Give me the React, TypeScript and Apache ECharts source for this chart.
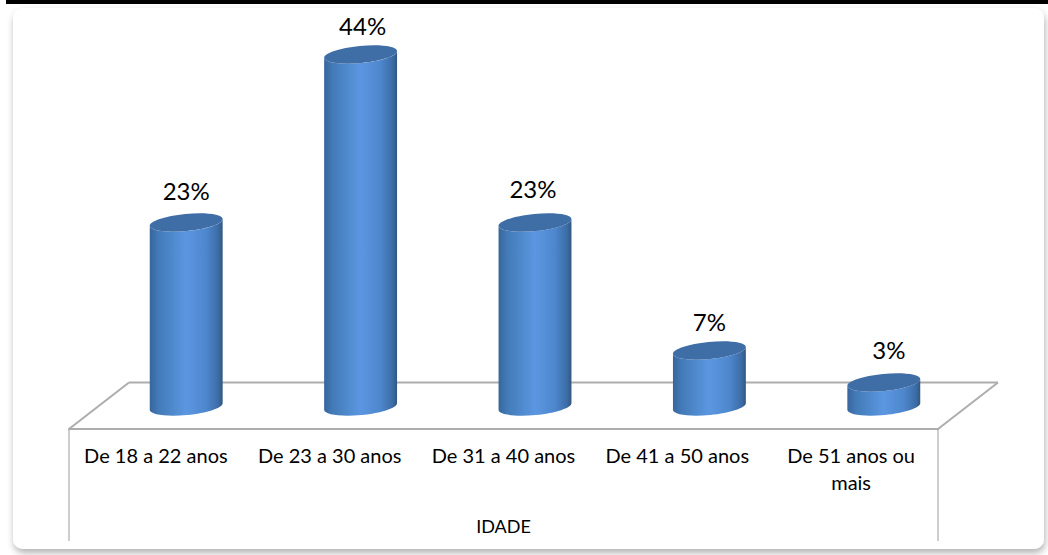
import React, { useEffect, useRef } from "react";
import * as echarts from "echarts";

const categories = ["De 18 a 22 anos", "De 23 a 30 anos", "De 31 a 40 anos", "De 41 a 50 anos", "De 51 anos ou\nmais"];
const values = [23, 44, 23, 7, 3];
const groupLabel = "IDADE";
const FONT = "Lato, 'Open Sans', sans-serif";
const labelNudgeX = [0, 2, -2, 0, 5];
const labelNudgeY = [0, 3, -2, 3, -1];

export default function App() {
  const ref = useRef<HTMLDivElement>(null);
  useEffect(() => {
    document.body.style.margin = "0";
    document.body.style.background = "#fff";
    const chart = echarts.init(ref.current!, null, { renderer: "svg" });
    const renderItem = (params: any, api: any) => {
      const i = api.value(0);
      const v = api.value(1);
      const [cx, yTop] = api.coord([i, v]);
      const [, yBase] = api.coord([i, 0]);
      const rx = (api.size([1, 0])[0] * 0.42) / 2;
      const ry = 8.5;
      const th = (-5.6 * Math.PI) / 180;
      const k = 0.5523;
      const ux = rx * Math.cos(th);
      const uy = rx * Math.sin(th);
      const vx = -ry * Math.sin(th);
      const vy = ry * Math.cos(th);
      const P = (x: number, y: number) => `${x.toFixed(2)} ${y.toFixed(2)}`;
      // half ellipse from the left end to the right end; s = -1 over the top, s = 1 under it
      const halfLR = (y: number, s: number) =>
        `C${P(cx - ux + s * k * vx, y - uy + s * k * vy)} ${P(cx + s * vx - k * ux, y + s * vy - k * uy)} ${P(cx + s * vx, y + s * vy)}` +
        `C${P(cx + s * vx + k * ux, y + s * vy + k * uy)} ${P(cx + ux + s * k * vx, y + uy + s * k * vy)} ${P(cx + ux, y + uy)}`;
      const halfRL = (y: number, s: number) =>
        `C${P(cx + ux + s * k * vx, y + uy + s * k * vy)} ${P(cx + s * vx + k * ux, y + s * vy + k * uy)} ${P(cx + s * vx, y + s * vy)}` +
        `C${P(cx + s * vx - k * ux, y + s * vy - k * uy)} ${P(cx - ux + s * k * vx, y - uy + s * k * vy)} ${P(cx - ux, y - uy)}`;
      const ell = `M${P(cx - ux, yTop - uy)}${halfLR(yTop, -1)}${halfRL(yTop, 1)}Z`;
      const body =
        `M${P(cx - ux, yTop - uy)}L${P(cx - ux, yBase - uy)}${halfLR(yBase, 1)}` +
        `L${P(cx + ux, yTop + uy)}${halfRL(yTop, 1)}Z`;
      return {
        type: "group",
        children: [
          {
            type: "path",
            shape: { pathData: body },
            style: {
              fill: new echarts.graphic.LinearGradient(0, 0, 1, 0, [
                { offset: 0, color: "#38659c" },
                { offset: 0.12, color: "#437bb8" },
                { offset: 0.5, color: "#5b97e1" },
                { offset: 0.78, color: "#4d86cc" },
                { offset: 0.94, color: "#3c6ca6" },
                { offset: 1, color: "#32577f" },
              ]),
            },
          },
          { type: "path", shape: { pathData: ell }, style: { fill: "#3f6ea6" } },
          {
            type: "text",
            style: {
              x: cx + labelNudgeX[i],
              y: yTop - 32 + labelNudgeY[i],
              text: `${v}%`,
              fill: "#000",
              fontFamily: FONT,
              fontSize: 24,
              align: "center",
              verticalAlign: "middle",
            },
          },
        ],
      };
    };
    const line = { stroke: "#adadad", lineWidth: 2 };
    const thin = { stroke: "#9c9c9c", lineWidth: 1 };
    chart.setOption({
      animation: false,
      backgroundColor: "transparent",
      grid: [
        { left: 99, width: 872, top: 6.5, height: 400 },
        { left: 69, width: 869, top: 429, height: 112 },
      ],
      xAxis: [
        { gridIndex: 0, type: "category", data: categories, axisLine: { show: false }, axisTick: { show: false }, axisLabel: { show: false } },
        {
          gridIndex: 1,
          type: "category",
          position: "top",
          data: categories,
          axisLine: { show: true, onZero: false, lineStyle: { color: "#adadad", width: 2 } },
          axisTick: { show: false },
          axisLabel: {
            show: true,
            inside: true,
            margin: 12,
            interval: 0,
            color: "#000",
            fontFamily: FONT,
            fontSize: 20,
            lineHeight: 27,
            verticalAlign: "top",
          },
        },
      ],
      yAxis: [
        { gridIndex: 0, type: "value", min: 0, max: 50, show: false },
        { gridIndex: 1, type: "value", min: 0, max: 1, show: false },
      ],
      series: [
        {
          type: "custom",
          xAxisIndex: 0,
          yAxisIndex: 0,
          z: 5,
          clip: false,
          renderItem,
          encode: { x: 0, y: 1 },
          data: values.map((v, i) => [i, v]),
        },
      ],
      graphic: [
        {
          type: "rect",
          z: -10,
          shape: { x: 0, y: 0, width: 1048, height: 555 },
          style: { fill: "#fff" },
        },
        {
          type: "rect",
          z: -8,
          shape: { x: 13, y: 8, width: 1031, height: 541, r: 10 },
          style: { fill: "#fff", shadowColor: "rgba(0,0,0,0.3)", shadowBlur: 7, shadowOffsetX: 1, shadowOffsetY: 4 },
        },
        {
          type: "rect",
          z: -7,
          shape: { x: 6, y: 0, width: 1042, height: 4 },
          style: { fill: "#000" },
        },
        { type: "line", z: 1, shape: { x1: 129, y1: 382.5, x2: 998, y2: 382.5 }, style: line },
        { type: "line", z: 1, shape: { x1: 69, y1: 429, x2: 129, y2: 382.5 }, style: line },
        { type: "line", z: 1, shape: { x1: 938, y1: 429, x2: 998, y2: 382.5 }, style: line },
        { type: "line", z: 1, shape: { x1: 69, y1: 429, x2: 69, y2: 541 }, style: thin },
        { type: "line", z: 1, shape: { x1: 938, y1: 429, x2: 938, y2: 541 }, style: thin },
        {
          type: "text",
          z: 1,
          style: { x: 503.5, y: 526, text: groupLabel, fill: "#000", fontFamily: FONT, fontSize: 18, align: "center", verticalAlign: "middle" },
        },
      ],
    });
    return () => chart.dispose();
  }, []);
  return <div ref={ref} style={{ width: 1048, height: 555 }} />;
}
